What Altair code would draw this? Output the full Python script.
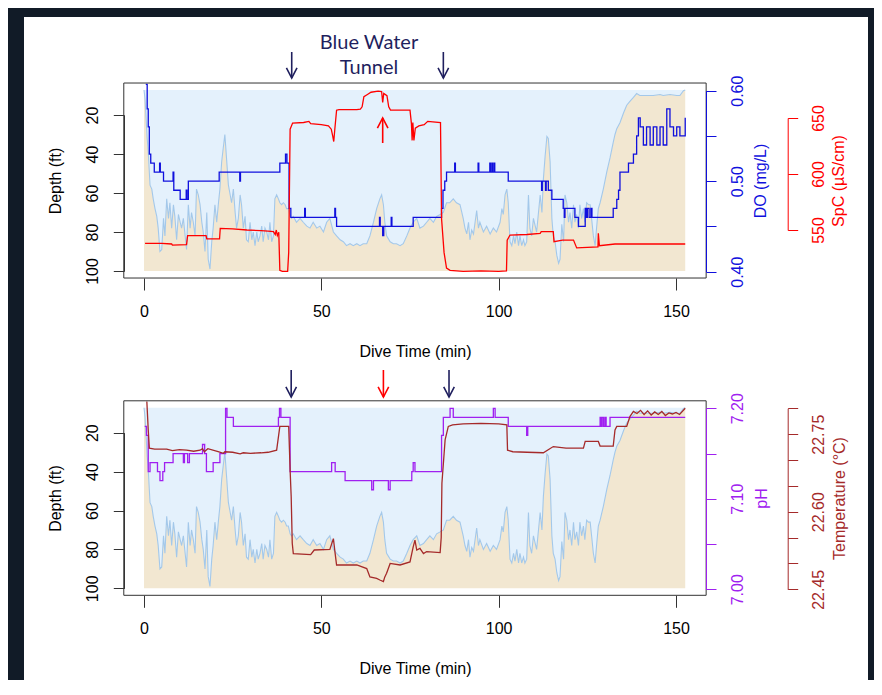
import altair as alt
import pandas as pd

# ---------------- values ----------------
# depth profile (minutes, feet) - shared by both panels
depth_readings = [
    (0.0, 7.2), (0.3, 12), (0.6, 22), (0.9, 32), (1.2, 39), (1.7, 56), (2.2, 58), (2.6, 63), (3.1, 68),
    (3.6, 72), (4.0, 78), (4.5, 90), (5.0, 89), (5.5, 73), (5.9, 82), (6.4, 63), (6.9, 73), (7.3, 65),
    (7.8, 78), (8.3, 66), (8.7, 72), (9.2, 84), (9.7, 71), (10.2, 75), (10.6, 78), (11.1, 73), (11.6, 82),
    (12.0, 89), (12.5, 66), (13.0, 78), (13.4, 70), (13.9, 75), (14.4, 82), (14.8, 58), (15.3, 61),
    (15.8, 66), (16.3, 75), (16.7, 80), (17.2, 90), (17.7, 70), (18.1, 94), (18.6, 99), (19.1, 85),
    (19.5, 78), (20.0, 66), (20.5, 75), (21.0, 65), (21.4, 58), (21.9, 44), (22.4, 36), (22.8, 30),
    (23.3, 43), (23.8, 56), (24.2, 60), (24.7, 65), (25.2, 58), (25.7, 70), (26.1, 78), (26.6, 73),
    (27.1, 61), (27.5, 66), (28.0, 78), (28.5, 72), (28.9, 84), (29.4, 85), (29.9, 75), (30.4, 84),
    (30.8, 80), (31.3, 87), (31.8, 80), (32.2, 85), (32.7, 82), (33.2, 77), (33.6, 85), (34.1, 78),
    (34.6, 80), (35.1, 84), (35.5, 75), (36.0, 85), (36.5, 82), (36.9, 63), (37.4, 61), (37.9, 63),
    (38.3, 65), (38.8, 66), (39.3, 65), (39.8, 66), (40.2, 68), (40.7, 68), (41.2, 72), (41.6, 73),
    (42.1, 72), (43.0, 75), (44.0, 73), (44.9, 75), (45.9, 77), (46.8, 78), (47.7, 75), (48.7, 78),
    (49.6, 77), (50.6, 80), (51.5, 75), (52.4, 73), (53.4, 80), (54.3, 82), (55.3, 84), (56.2, 85),
    (57.1, 87), (58.1, 86), (59.0, 87), (60.0, 86), (60.9, 87), (61.8, 86), (62.8, 86), (63.7, 82),
    (64.7, 75), (65.6, 68), (66.5, 63), (67.0, 61), (67.5, 66), (67.9, 75), (68.4, 82), (69.4, 85),
    (70.3, 86), (71.2, 86), (72.2, 87), (73.1, 86), (74.1, 82), (75.0, 78), (75.9, 75), (76.9, 73),
    (77.8, 78), (78.8, 77), (79.7, 75), (80.6, 73), (81.6, 75), (82.5, 72), (83.5, 71), (84.4, 70),
    (85.3, 65), (86.2, 65), (87.2, 63), (88.1, 65), (89.1, 66), (90.0, 73), (90.5, 78), (91.0, 81),
    (91.5, 75), (91.9, 84), (92.4, 79), (92.9, 81), (93.8, 69), (94.3, 78), (94.7, 75), (95.7, 80),
    (96.6, 77), (97.6, 81), (98.5, 78), (99.4, 80), (100.4, 75), (100.9, 68), (101.3, 71), (101.8, 61),
    (102.3, 58), (102.7, 65), (103.2, 85), (103.7, 87), (104.2, 82), (104.6, 86), (105.1, 80),
    (105.6, 87), (106.0, 82), (106.5, 87), (107.0, 84), (107.4, 87), (107.9, 85), (108.4, 61),
    (108.8, 78), (109.3, 82), (109.8, 73), (110.7, 80), (111.7, 61), (112.2, 70), (112.6, 53),
    (113.1, 41), (113.6, 31), (114.0, 32), (114.5, 44), (115.0, 73), (115.4, 82), (115.9, 85),
    (116.4, 92), (116.9, 96), (117.3, 94), (117.8, 76), (118.3, 85), (118.7, 61), (119.2, 65),
    (119.7, 75), (120.1, 70), (120.6, 78), (121.1, 66), (121.5, 75), (122.0, 71), (122.5, 78),
    (122.9, 66), (123.4, 73), (123.9, 68), (124.3, 75), (124.8, 65), (125.3, 66), (125.8, 66),
    (126.2, 73), (126.7, 82), (127.2, 87), (127.6, 78), (128.1, 68), (128.6, 65), (129.5, 58),
    (130.5, 49), (131.4, 42), (132.3, 34), (132.8, 30), (133.3, 27), (134.2, 24), (135.2, 19),
    (136.1, 15), (137.0, 13), (138.0, 11), (138.9, 9), (139.8, 10), (141.7, 10), (143.6, 10),
    (145.5, 9.5), (146.4, 10), (148.3, 9.5), (150.2, 10), (151.1, 10), (152.1, 7.5), (152.6, 7.2),
]

# dissolved oxygen (minutes, mg/L), stepped logger record
do_readings = [
    (0.5, 0.607), (0.9, 0.58), (1.2, 0.56), (1.5, 0.53), (1.9, 0.52), (2.9, 0.51), (4.4, 0.52),
    (4.6, 0.51), (5.5, 0.50), (8.2, 0.51), (8.4, 0.49), (10.2, 0.48), (11.9, 0.49), (12.1, 0.48),
    (12.5, 0.50), (21.2, 0.51), (27.0, 0.50), (27.2, 0.51), (38.3, 0.52), (39.9, 0.53), (40.3, 0.52),
    (40.9, 0.47), (41.4, 0.46), (45.3, 0.47), (45.5, 0.46), (53.8, 0.47), (54.0, 0.46), (54.3, 0.45),
    (66.4, 0.46), (66.6, 0.45), (67.3, 0.44), (67.6, 0.45), (69.7, 0.46), (69.9, 0.45), (75.9, 0.46),
    (83.9, 0.47), (84.3, 0.49), (84.8, 0.50), (85.3, 0.51), (87.6, 0.52), (87.8, 0.51), (94.2, 0.52),
    (94.4, 0.51), (97.5, 0.52), (97.7, 0.51), (98.1, 0.52), (98.3, 0.51), (98.7, 0.52), (98.9, 0.51),
    (102.7, 0.50), (112.1, 0.49), (112.3, 0.50), (113.2, 0.49), (113.4, 0.50), (114.0, 0.49),
    (115.0, 0.48), (118.2, 0.47), (118.5, 0.46), (118.7, 0.47), (121.5, 0.46), (122.5, 0.45),
    (124.4, 0.47), (124.7, 0.46), (125.0, 0.47), (125.5, 0.46), (126.0, 0.47), (126.3, 0.46),
    (132.3, 0.47), (133.3, 0.48), (133.8, 0.49), (134.2, 0.51), (136.6, 0.52), (138.0, 0.53),
    (138.9, 0.55), (139.4, 0.57), (139.9, 0.56), (140.8, 0.54), (141.7, 0.56), (142.7, 0.54),
    (143.6, 0.56), (144.6, 0.54), (145.5, 0.56), (146.4, 0.54), (147.4, 0.58), (148.3, 0.56),
    (149.3, 0.55), (150.2, 0.56), (151.1, 0.55), (152.1, 0.55), (152.6, 0.57),
]

# specific conductance (minutes, uS/cm)
spc_readings = [
    (0.3, 538), (5.0, 538), (7.8, 537.5), (8.0, 536.5), (12.0, 537), (12.3, 545), (17.5, 545),
    (17.7, 542), (21.3, 542), (21.5, 551.5), (25.0, 551), (29.0, 550), (33.0, 549.5), (35.0, 549),
    (36.5, 548.5), (37.0, 546), (37.3, 550), (37.6, 545), (38.0, 548), (38.3, 514), (39.0, 513),
    (40.5, 513), (40.8, 530), (41.2, 640), (41.9, 645.5), (45.0, 646), (46.5, 647), (47.0, 645),
    (50.0, 644), (52.0, 643), (52.8, 640), (53.2, 634), (53.5, 629), (53.8, 640), (54.3, 657),
    (55.0, 657.5), (60.0, 657.5), (61.0, 658), (61.5, 660), (62.0, 669), (63.0, 671), (64.0, 673),
    (66.0, 674), (67.0, 673.5), (67.3, 664), (67.6, 672), (68.5, 670), (69.0, 660), (69.5, 657),
    (75.0, 657), (75.4, 645), (75.6, 630), (75.8, 646), (76.1, 630), (76.5, 641), (77.5, 643),
    (79.0, 644), (80.0, 647), (83.6, 646), (83.9, 560), (84.6, 530), (85.3, 516), (86.3, 514),
    (90.0, 513), (95.0, 513.5), (100.0, 513), (102.2, 513.5), (102.4, 541), (103.2, 545.5),
    (108.0, 546), (111.7, 547), (112.0, 548.5), (115.4, 548.5), (115.6, 539.6), (118.0, 541),
    (121.1, 541), (122.0, 534), (128.0, 535), (128.1, 547), (128.4, 536), (132.8, 537.5),
    (152.6, 537.5),
]

# pH (minutes, pH), stepped logger record
ph_readings = [
    (0.2, 7.18), (0.7, 7.17), (1.2, 7.13), (1.7, 7.14), (3.8, 7.13), (4.5, 7.12), (5.3, 7.13),
    (5.8, 7.14), (8.2, 7.15), (11.1, 7.14), (11.4, 7.15), (12.3, 7.14), (12.8, 7.15), (16.5, 7.16),
    (17.1, 7.15), (17.6, 7.13), (19.5, 7.14), (21.4, 7.15), (23.0, 7.20), (23.4, 7.19), (25.2, 7.18),
    (37.9, 7.19), (38.2, 7.20), (38.6, 7.19), (41.2, 7.13), (52.9, 7.14), (53.9, 7.13), (56.7, 7.12),
    (64.2, 7.11), (64.7, 7.12), (68.9, 7.11), (69.4, 7.12), (75.5, 7.13), (75.9, 7.14), (76.4, 7.13),
    (83.5, 7.13), (83.9, 7.17), (84.4, 7.19), (86.3, 7.20), (87.2, 7.19), (98.5, 7.20), (99.0, 7.19),
    (102.7, 7.18), (107.9, 7.17), (108.2, 7.18), (128.6, 7.19), (128.9, 7.18), (129.2, 7.19),
    (129.6, 7.18), (130.0, 7.19), (130.3, 7.18), (131.4, 7.19), (152.6, 7.19),
]

# temperature (minutes, deg C)
temp_readings = [
    (0.8, 22.813), (1.2, 22.758), (1.5, 22.723), (3.0, 22.721), (6.4, 22.721), (8.0, 22.718),
    (10.0, 22.720), (12.0, 22.719), (14.0, 22.717), (15.8, 22.719), (16.5, 22.722), (17.0, 22.716),
    (18.0, 22.722), (20.9, 22.716), (22.4, 22.713), (22.8, 22.716), (25.0, 22.715), (27.1, 22.712),
    (28.0, 22.714), (30.0, 22.713), (33.0, 22.714), (35.0, 22.715), (37.4, 22.719), (38.3, 22.765),
    (40.8, 22.765), (41.2, 22.680), (41.5, 22.629), (41.8, 22.539), (42.1, 22.519), (47.0, 22.517),
    (48.0, 22.526), (52.4, 22.527), (53.4, 22.548), (53.9, 22.519), (54.3, 22.497), (60.0, 22.497),
    (62.8, 22.490), (63.7, 22.474), (65.6, 22.471), (66.5, 22.468), (67.5, 22.465), (67.9, 22.474),
    (68.4, 22.481), (69.4, 22.500), (72.2, 22.497), (75.0, 22.503), (75.9, 22.532), (76.4, 22.545),
    (76.9, 22.526), (77.8, 22.529), (78.8, 22.519), (79.7, 22.523), (83.5, 22.521), (83.8, 22.550),
    (84.0, 22.655), (84.9, 22.739), (85.8, 22.765), (87.0, 22.768), (90.0, 22.770), (95.0, 22.771),
    (100.0, 22.770), (102.3, 22.768), (102.5, 22.719), (104.0, 22.716), (108.0, 22.715),
    (112.6, 22.714), (115.4, 22.726), (119.0, 22.723), (123.9, 22.723), (124.4, 22.736),
    (128.1, 22.736), (128.6, 22.727), (132.3, 22.727), (132.8, 22.758), (133.3, 22.765),
    (136.1, 22.765), (137.0, 22.784), (138.0, 22.794), (139.0, 22.790), (140.0, 22.796),
    (141.0, 22.788), (142.0, 22.795), (143.0, 22.787), (144.0, 22.793), (145.0, 22.788),
    (146.0, 22.794), (147.0, 22.786), (148.0, 22.791), (149.0, 22.789), (150.0, 22.792),
    (151.0, 22.788), (152.6, 22.800),
]

SURFACE_FT = 7.2
FLOOR_FT = 100.0

time_ticks = [0, 50, 100, 150]
depth_ticks = [20, 40, 60, 80, 100]
do_ticks = [0.40, 0.45, 0.50, 0.55, 0.60]
do_labels = ["0.40", "0.50", "0.60"]
spc_ticks = [550, 600, 650]
ph_ticks = [7.00, 7.05, 7.10, 7.15, 7.20]
ph_labels = ["7.00", "7.10", "7.20"]
temp_ticks = [22.45, 22.50, 22.55, 22.60, 22.65, 22.70, 22.75, 22.80]
temp_labels = ["22.45", "22.60", "22.75"]

frame_time = [-5.7, 158.5]
frame_depth = [3.6, 103.6]

tunnel_marks_top = [41.65, 84.4]
tunnel_marks_bottom = [41.5, 86.0]
peak_mark_top = [67.3]
peak_mark_bottom = [67.5]

# ---------------- layout / style ----------------
W, H = 866, 672
BG = "#111b27"
PAPER = "white"
INK = "#333333"
FONT = "Liberation Sans"
WATER = "#e4f1fc"
ROCK = "#f2e7d1"
DEPTH_LINE = "#a3c8ea"
C_DO = "#1010dd"
C_SPC = "#ff0000"
C_PH = "#a020f0"
C_TEMP = "#a52a2a"
NAVY = "#1f1f5e"

X_PIX = [136, 668]
BOX_L, BOX_R = 116, 698
AX2_X = 779.7
TOP = dict(depth=[107, 263], box_bottom=270, mid=172.5, do=[263.7, 82.7], spc=[222, 110],
           arrow=[44, 70], peak=[135, 110])
BOT = dict(depth=[424.7, 580.3], box_bottom=587.3, mid=490, ph=[581.3, 400.3], temp=[581.3, 400.3],
           arrow=[362, 389])

DOWN = "M-1,-1.9L0,0L1,-1.9"
UP = "M-1,1.9L0,0L1,1.9"

AX_COMMON = dict(zindex=2, labelFont=FONT, titleFont=FONT, labelFontSize=16, titleFontSize=16,
                 titleFontWeight="normal", grid=False, labelFlush=False, labelOverlap=False,
                 tickWidth=1, domainWidth=1)

# ---------------- tables ----------------
depth_df = pd.DataFrame(depth_readings, columns=["t", "depth"])
depth_df["surface"] = SURFACE_FT
depth_df["floor"] = FLOOR_FT
do_df = pd.DataFrame(do_readings, columns=["t", "v"])
spc_df = pd.DataFrame(spc_readings, columns=["t", "v"])
ph_df = pd.DataFrame(ph_readings, columns=["t", "v"])
temp_df = pd.DataFrame(temp_readings, columns=["t", "v"])
box_df = pd.DataFrame({"t": [frame_time[0]], "t2": [frame_time[1]],
                       "d": [frame_depth[0]], "d2": [frame_depth[1]]})
one = pd.DataFrame({"k": [0]})


def sx():
    return alt.Scale(domain=[0, 150], range=X_PIX, nice=False, zero=False)


def lin(dom, rng):
    return alt.Scale(domain=dom, range=rng, nice=False, zero=False)


def X(axis=None):
    return alt.X("t:Q", scale=sx(), axis=axis)


def label_expr(labels, fmt):
    if labels is None:
        return f"format(datum.value, '{fmt}')"
    arr = "[" + ",".join(f"'{s}'" for s in labels) + "]"
    return f"indexof({arr}, format(datum.value, '{fmt}')) >= 0 ? format(datum.value, '{fmt}') : ''"


def time_axis(y_pix):
    return alt.Axis(orient="bottom", offset=y_pix - H, values=time_ticks, format="d", domain=False,
                    tickSize=12, tickColor=INK, labelColor="black", labelPadding=13, labelAngle=0,
                    title="Dive Time (min)", titleColor="black", titleX=(BOX_L + BOX_R) / 2, titleY=73,
                    titleAlign="center", titleBaseline="middle", titleAngle=0, **AX_COMMON)


def depth_axis(mid):
    return alt.Axis(orient="left", offset=-BOX_L, values=depth_ticks, format="d", domainColor=INK,
                    tickColor=INK, tickSize=10.7, labelAngle=-90, labelAlign="center",
                    labelBaseline="bottom", labelPadding=13, labelColor="black",
                    title="Depth (ft)", titleColor="black", titleAngle=-90, titleX=47 - BOX_L,
                    titleY=mid, titleAlign="center", titleBaseline="middle", **AX_COMMON)


def right_axis(x_pix, ticks, labels, fmt, color, title, title_dx, mid):
    return alt.Axis(orient="right", offset=x_pix - W, values=ticks, domainColor=color, tickColor=color,
                    labelColor=color, titleColor=color, tickSize=10, labelAngle=-90,
                    labelAlign="center", labelBaseline="top", labelPadding=13,
                    labelExpr=label_expr(labels, fmt), title=title, titleAngle=-90, titleX=title_dx,
                    titleY=mid, titleAlign="center", titleBaseline="middle", **AX_COMMON)


def ground_layers(P):
    dscale = lambda: lin([20, 100], P["depth"])
    water = alt.Chart(depth_df).mark_area(color=WATER, opacity=1).encode(
        x=X(time_axis(P["box_bottom"])),
        y=alt.Y("depth:Q", scale=dscale(), axis=depth_axis(P["mid"])),
        y2="surface:Q")
    rock = alt.Chart(depth_df).mark_area(color=ROCK, opacity=1).encode(
        x=X(), y=alt.Y("depth:Q", scale=dscale(), axis=None), y2="floor:Q")
    line = alt.Chart(depth_df).mark_line(color=DEPTH_LINE, strokeWidth=1.1).encode(
        x=X(), y=alt.Y("depth:Q", scale=dscale(), axis=None))
    box = alt.Chart(box_df).mark_rect(fillOpacity=0, stroke=INK, strokeWidth=1).encode(
        x=X(), x2="t2:Q", y=alt.Y("d:Q", scale=dscale(), axis=None), y2="d2:Q")
    return [water, rock, line], box


def series(df, dom, rng, color, axis, step=False):
    kw = dict(color=color, strokeWidth=1.3)
    if step:
        kw["interpolate"] = "step-after"
    return alt.Chart(df).mark_line(**kw).encode(
        x=X(), y=alt.Y("v:Q", scale=lin(dom, rng), axis=axis))


def arrows(times, y_pix, color, shape, tip):
    df = pd.DataFrame({"t": times})
    stem = alt.Chart(df).mark_rule(color=color, strokeWidth=1.6).encode(
        x=X(), y=alt.value(y_pix[0]), y2=alt.value(y_pix[1]))
    head = alt.Chart(df).mark_point(shape=shape, size=112, filled=False, strokeWidth=1.6,
                                    color=color, opacity=1).encode(x=X(), y=alt.value(tip))
    return [stem, head]


paper = alt.Chart(one).mark_rect(color=PAPER).encode(
    x=alt.value(16), x2=alt.value(860), y=alt.value(9), y2=alt.value(H))

# top panel
top_ground, top_box = ground_layers(TOP)
top_do = series(do_df, [0.40, 0.60], TOP["do"], C_DO,
                right_axis(BOX_R, do_ticks, do_labels, ".2f", C_DO, "DO (mg/L)", 54, TOP["mid"]),
                step=True)
top_spc = series(spc_df, [550, 650], TOP["spc"], C_SPC,
                 right_axis(AX2_X, spc_ticks, None, "d", C_SPC, "SpC (µS/cm)", 51, TOP["mid"]))
top_arrows = arrows(tunnel_marks_top, TOP["arrow"], NAVY, DOWN, TOP["arrow"][1])
top_peak = arrows(peak_mark_top, [TOP["peak"][0], TOP["peak"][1]], C_SPC, UP, TOP["peak"][1])
label1 = alt.Chart(one).mark_text(text="Blue Water", font="Lato", fontSize=20, color=NAVY,
                                  align="center", baseline="middle").encode(
    x=alt.value(361), y=alt.value(34.5))
label2 = alt.Chart(one).mark_text(text="Tunnel", font="Lato", fontSize=20, color=NAVY,
                                  align="center", baseline="middle").encode(
    x=alt.value(361), y=alt.value(59.5))

# bottom panel
bot_ground, bot_box = ground_layers(BOT)
bot_ph = series(ph_df, [7.00, 7.20], BOT["ph"], C_PH,
                right_axis(BOX_R, ph_ticks, ph_labels, ".2f", C_PH, "pH", 55, BOT["mid"]),
                step=True)
bot_temp = series(temp_df, [22.45, 22.80], BOT["temp"], C_TEMP,
                  right_axis(AX2_X, temp_ticks, temp_labels, ".2f", C_TEMP, "Temperature (°C)", 52,
                             BOT["mid"]))
bot_arrows = arrows(tunnel_marks_bottom, BOT["arrow"], NAVY, DOWN, BOT["arrow"][1])
bot_peak = arrows(peak_mark_bottom, BOT["arrow"], C_SPC, DOWN, BOT["arrow"][1])

layers = ([paper] + top_ground + [top_do, top_spc, top_box] + top_arrows + top_peak + [label1, label2]
          + bot_ground + [bot_ph, bot_temp, bot_box] + bot_arrows + bot_peak)

chart = alt.layer(*layers).resolve_scale(x="independent", y="independent").properties(
    width=W, height=H, background=BG, padding=0,
    autosize=alt.AutoSizeParams(type="none"),
).configure_view(stroke=None)

chart.save("out.html", embed_options={"renderer": "svg", "actions": False})
